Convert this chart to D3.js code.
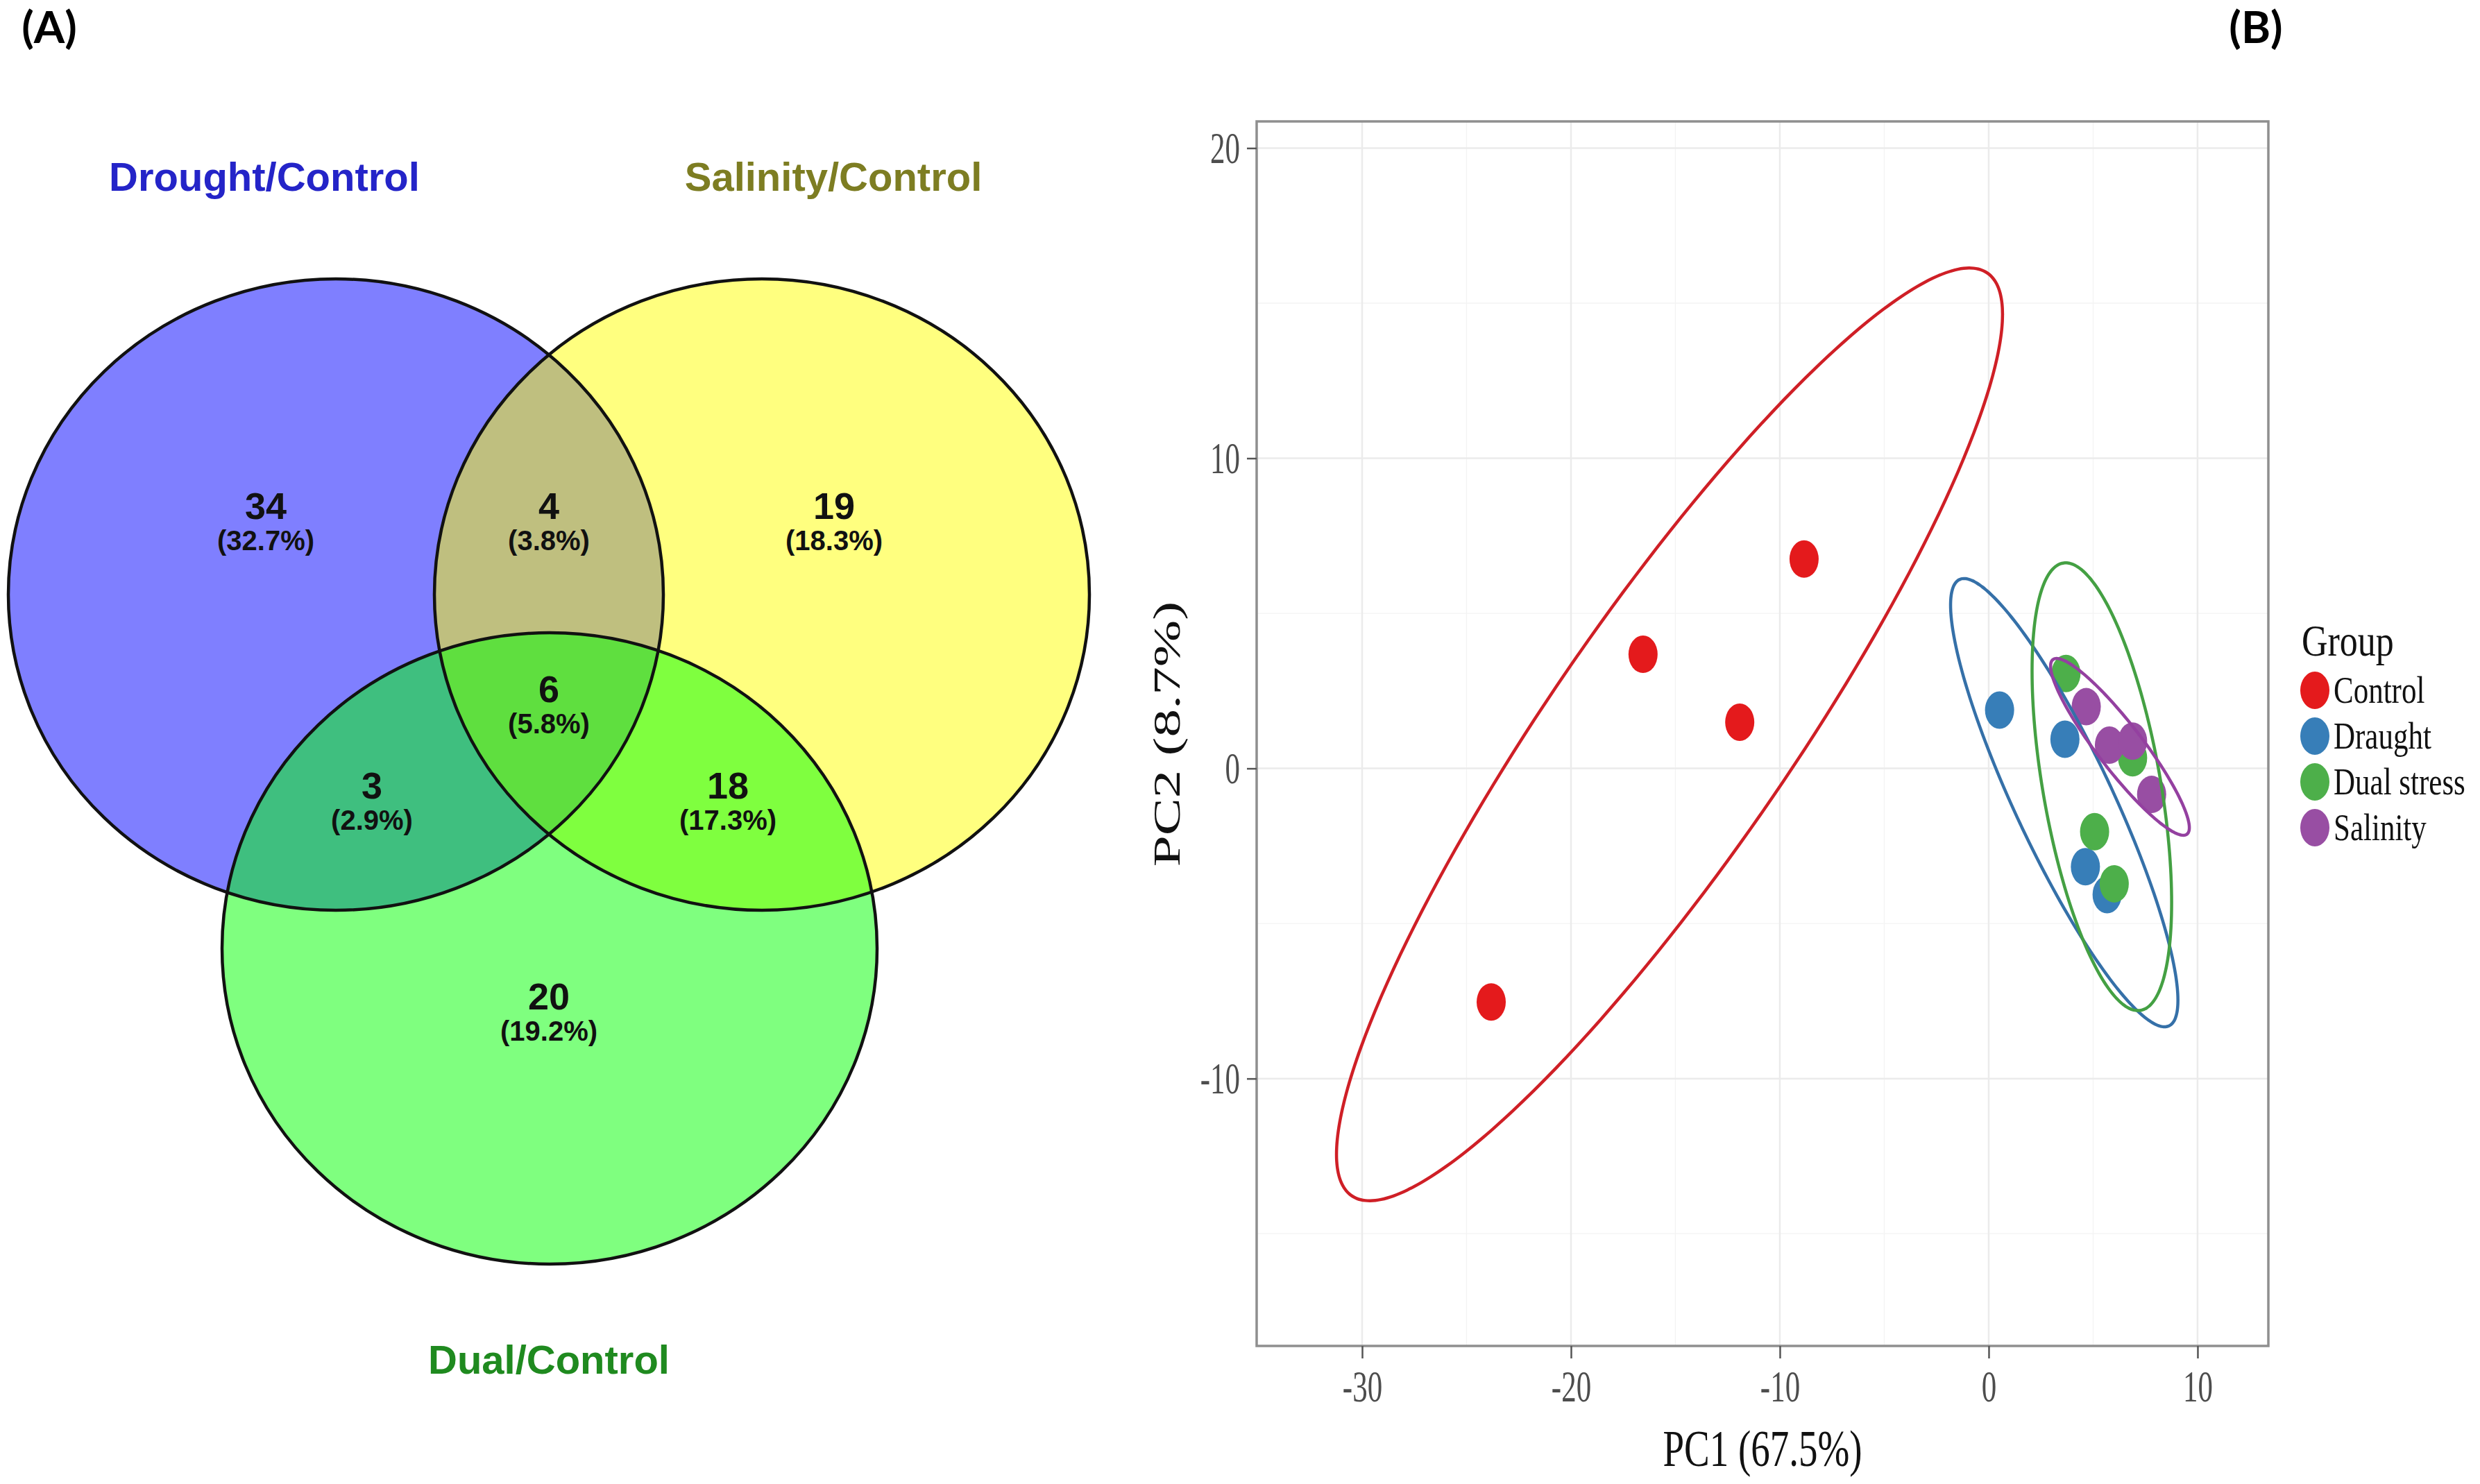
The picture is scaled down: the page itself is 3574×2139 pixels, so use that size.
<!DOCTYPE html>
<html><head><meta charset="utf-8">
<script src="https://cdn.jsdelivr.net/npm/d3@7"></script>
<style>body{margin:0;background:#fff}</style>
</head><body>
<svg id="c" width="3574" height="2139"></svg>
<script>
// ---------- Data ----------
const vennSets = ["Drought/Control", "Salinity/Control", "Dual/Control"];
const vennRegions = ["D", "D&S", "S", "D&S&Du", "D&Du", "S&Du", "Du"];
const vennCounts = [34, 4, 19, 6, 3, 18, 20];
const vennPercents = ["32.7%", "3.8%", "18.3%", "5.8%", "2.9%", "17.3%", "19.2%"];

const groups = ["Control", "Draught", "Dual stress", "Salinity"];
const controlPC1 = [-8.84, -16.55, -11.92, -23.82];
const controlPC2 = [6.75, 3.68, 1.49, -7.53];
const draughtPC1 = [0.52, 3.65, 4.63, 5.67];
const draughtPC2 = [1.88, 0.94, -3.17, -4.07];
const dualPC1 = [3.70, 6.89, 5.07, 6.01];
const dualPC2 = [3.06, 0.34, -2.04, -3.72];
const salinityPC1 = [4.67, 5.78, 6.89, 7.80];
const salinityPC2 = [1.99, 0.75, 0.88, -0.84];
const xTicks = [-30, -20, -10, 0, 10];
const yTicks = [-10, 0, 10, 20];
const xTitle = "PC1 (67.5%)";
const yTitle = "PC2 (8.7%)";
const chi2_95 = 5.991; // qchisq(0.95, 2)

// ---------- Layout / style ----------
const svg = d3.select("#c");
svg.append("rect").attr("width", 3574).attr("height", 2139).attr("fill", "#fff");

const vennGeom = {rx: 472, ry: 455};
const vennCenters = [[484, 857], [1098, 857], [792, 1367]];
const vennFills = ["#0000ff", "#ffff00", "#00ff00"];
const vennLabelColors = ["#2424c8", "#7d7d22", "#1f8a1f"];
const vennLabelPos = [[381, 275], [1201, 275], [791, 1980]];
const regionPos = [[383, 730], [791, 730], [1202, 730], [791, 994], [536, 1133], [1049, 1133], [791, 1437]];

const groupColors = ["#e41a1c", "#377eb8", "#4daf4a", "#984ea3"];
const lineColors = ["#cf1f26", "#3570a8", "#44a043", "#9440a0"];

// panel labels
svg.append("text").attr("x", 71).attr("y", 62).attr("text-anchor", "middle")
  .attr("font-family", "Lato, 'Open Sans', sans-serif").attr("font-weight", 700).attr("font-size", 64)
  .text("(A)");
svg.append("text").attr("x", 3251).attr("y", 62).attr("text-anchor", "middle")
  .attr("font-family", "Lato, 'Open Sans', sans-serif").attr("font-weight", 700).attr("font-size", 64)
  .text("(B)");

// ---------- Venn ----------
const venn = svg.append("g");
venn.selectAll("ellipse.fill").data(vennSets).join("ellipse")
  .attr("class", "fill")
  .attr("cx", (d, i) => vennCenters[i][0]).attr("cy", (d, i) => vennCenters[i][1])
  .attr("rx", vennGeom.rx).attr("ry", vennGeom.ry)
  .attr("fill", (d, i) => vennFills[i]).attr("fill-opacity", 0.5);
venn.selectAll("ellipse.line").data(vennSets).join("ellipse")
  .attr("class", "line")
  .attr("cx", (d, i) => vennCenters[i][0]).attr("cy", (d, i) => vennCenters[i][1])
  .attr("rx", vennGeom.rx).attr("ry", vennGeom.ry)
  .attr("fill", "none").attr("stroke", "#111").attr("stroke-width", 4.5);
venn.selectAll("text.cat").data(vennSets).join("text")
  .attr("class", "cat")
  .attr("x", (d, i) => vennLabelPos[i][0]).attr("y", (d, i) => vennLabelPos[i][1])
  .attr("text-anchor", "middle").attr("font-family", "'Liberation Sans', Arial, sans-serif")
  .attr("font-weight", 700).attr("font-size", 58)
  .attr("fill", (d, i) => vennLabelColors[i]).text(d => d);
const rg = venn.selectAll("g.reg").data(vennCounts).join("g").attr("class", "reg")
  .attr("transform", (d, i) => `translate(${regionPos[i][0]},${regionPos[i][1]})`);
rg.append("text").attr("y", 18).attr("text-anchor", "middle")
  .attr("font-family", "'Liberation Sans', Arial, sans-serif").attr("font-weight", 700)
  .attr("font-size", 54).attr("fill", "#111").text(d => d);
rg.append("text").attr("y", 63).attr("text-anchor", "middle")
  .attr("font-family", "'Liberation Sans', Arial, sans-serif").attr("font-weight", 700)
  .attr("font-size", 40).attr("fill", "#111").text((d, i) => `(${vennPercents[i]})`);

// ---------- PCA ----------
const x = d3.scaleLinear().domain([-35.05, 13.39]).range([1811, 3269]);
const y = d3.scaleLinear().domain([-18.62, 20.86]).range([1940, 175]);
const pca = svg.append("g");
const serif = "'Liberation Serif', 'Times New Roman', serif";

const xMinor = d3.pairs(xTicks).map(p => (p[0] + p[1]) / 2);
const yMinor = d3.pairs(yTicks).map(p => (p[0] + p[1]) / 2).concat([yTicks[0] - 5]);

pca.selectAll("line.xmin").data(xMinor).join("line")
  .attr("x1", d => x(d)).attr("x2", d => x(d)).attr("y1", y.range()[0]).attr("y2", y.range()[1])
  .attr("stroke", "#f3f3f3").attr("stroke-width", 1.3);
pca.selectAll("line.ymin").data(yMinor).join("line")
  .attr("y1", d => y(d)).attr("y2", d => y(d)).attr("x1", x.range()[0]).attr("x2", x.range()[1])
  .attr("stroke", "#f3f3f3").attr("stroke-width", 1.3);
pca.selectAll("line.xmaj").data(xTicks).join("line")
  .attr("x1", d => x(d)).attr("x2", d => x(d)).attr("y1", y.range()[0]).attr("y2", y.range()[1])
  .attr("stroke", "#ebebeb").attr("stroke-width", 2.5);
pca.selectAll("line.ymaj").data(yTicks).join("line")
  .attr("y1", d => y(d)).attr("y2", d => y(d)).attr("x1", x.range()[0]).attr("x2", x.range()[1])
  .attr("stroke", "#ebebeb").attr("stroke-width", 2.5);

const series = [
  {name: groups[0], px: controlPC1, py: controlPC2},
  {name: groups[1], px: draughtPC1, py: draughtPC2},
  {name: groups[2], px: dualPC1, py: dualPC2},
  {name: groups[3], px: salinityPC1, py: salinityPC2}
];

// points
series.forEach((s, gi) => {
  pca.selectAll(null).data(s.px).join("ellipse")
    .attr("cx", d => x(d)).attr("cy", (d, i) => y(s.py[i]))
    .attr("rx", 21).attr("ry", 27).attr("fill", groupColors[gi]);
});

// 95% normal ellipses from the group covariance
function ellipsePts(px, py) {
  const n = px.length;
  const mx = d3.mean(px), my = d3.mean(py);
  let sxx = 0, syy = 0, sxy = 0;
  for (let i = 0; i < n; i++) {
    sxx += (px[i] - mx) ** 2; syy += (py[i] - my) ** 2; sxy += (px[i] - mx) * (py[i] - my);
  }
  sxx /= (n - 1); syy /= (n - 1); sxy /= (n - 1);
  const l11 = Math.sqrt(sxx), l21 = sxy / l11, l22 = Math.sqrt(syy - l21 * l21);
  const r = Math.sqrt(chi2_95);
  return d3.range(0, 361, 2).map(a => {
    const t = a * Math.PI / 180, c = Math.cos(t), s = Math.sin(t);
    return [mx + r * l11 * c, my + r * (l21 * c + l22 * s)];
  });
}
const line = d3.line().x(d => x(d[0])).y(d => y(d[1])).curve(d3.curveCardinalClosed);
series.forEach((s, gi) => {
  pca.append("path").datum(ellipsePts(s.px, s.py)).attr("d", line)
    .attr("fill", "none").attr("stroke", lineColors[gi]).attr("stroke-width", 4.5);
});

// border
pca.append("rect").attr("x", x.range()[0]).attr("y", y.range()[1])
  .attr("width", x.range()[1] - x.range()[0]).attr("height", y.range()[0] - y.range()[1])
  .attr("fill", "none").attr("stroke", "#8f8f8f").attr("stroke-width", 3.5);

// axes
const ax = pca.append("g").attr("transform", `translate(0,${y.range()[0]})`)
  .call(d3.axisBottom(x).tickValues(xTicks).tickSize(18).tickFormat(d => String(d)));
ax.select(".domain").remove();
ax.selectAll(".tick line").attr("stroke", "#555").attr("stroke-width", 2.5);
ax.selectAll(".tick text").attr("y", null).attr("dy", null)
  .attr("transform", "translate(0,80) scale(1,1.45)")
  .attr("font-family", serif).attr("font-size", 43).attr("fill", "#4d4d4d");

const ay = pca.append("g").attr("transform", `translate(${x.range()[0]},0)`)
  .call(d3.axisLeft(y).tickValues(yTicks).tickSize(14).tickFormat(d => String(d)));
ay.select(".domain").remove();
ay.selectAll(".tick line").attr("stroke", "#555").attr("stroke-width", 2.5);
ay.selectAll(".tick text").attr("x", null).attr("dy", null)
  .attr("transform", "translate(-24,21) scale(1,1.45)").attr("text-anchor", "end")
  .attr("font-family", serif).attr("font-size", 43).attr("fill", "#4d4d4d");

// axis titles
pca.append("text").attr("transform", `translate(${(x.range()[0] + x.range()[1]) / 2},2113) scale(1,1.36)`)
  .attr("text-anchor", "middle").attr("font-family", serif).attr("font-size", 55).attr("fill", "#111")
  .text(xTitle);
pca.append("text").attr("transform", `translate(1700,1058) scale(1,1.5) rotate(-90)`)
  .attr("text-anchor", "middle").attr("font-family", serif).attr("font-size", 54).attr("fill", "#111")
  .text(yTitle);

// legend
const leg = pca.append("g");
leg.append("text").attr("transform", "translate(3317,945) scale(1,1.2)")
  .attr("font-family", serif).attr("font-size", 52).attr("fill", "#111").text("Group");
const li = leg.selectAll("g.li").data(groups).join("g").attr("class", "li")
  .attr("transform", (d, i) => `translate(3336,${995 + i * 66})`);
li.append("ellipse").attr("rx", 21).attr("ry", 27).attr("fill", (d, i) => groupColors[i]);
li.append("text").attr("transform", "translate(27,18) scale(1,1.3)")
  .attr("font-family", serif).attr("font-size", 43).attr("fill", "#111").text(d => d);
</script></body></html>
